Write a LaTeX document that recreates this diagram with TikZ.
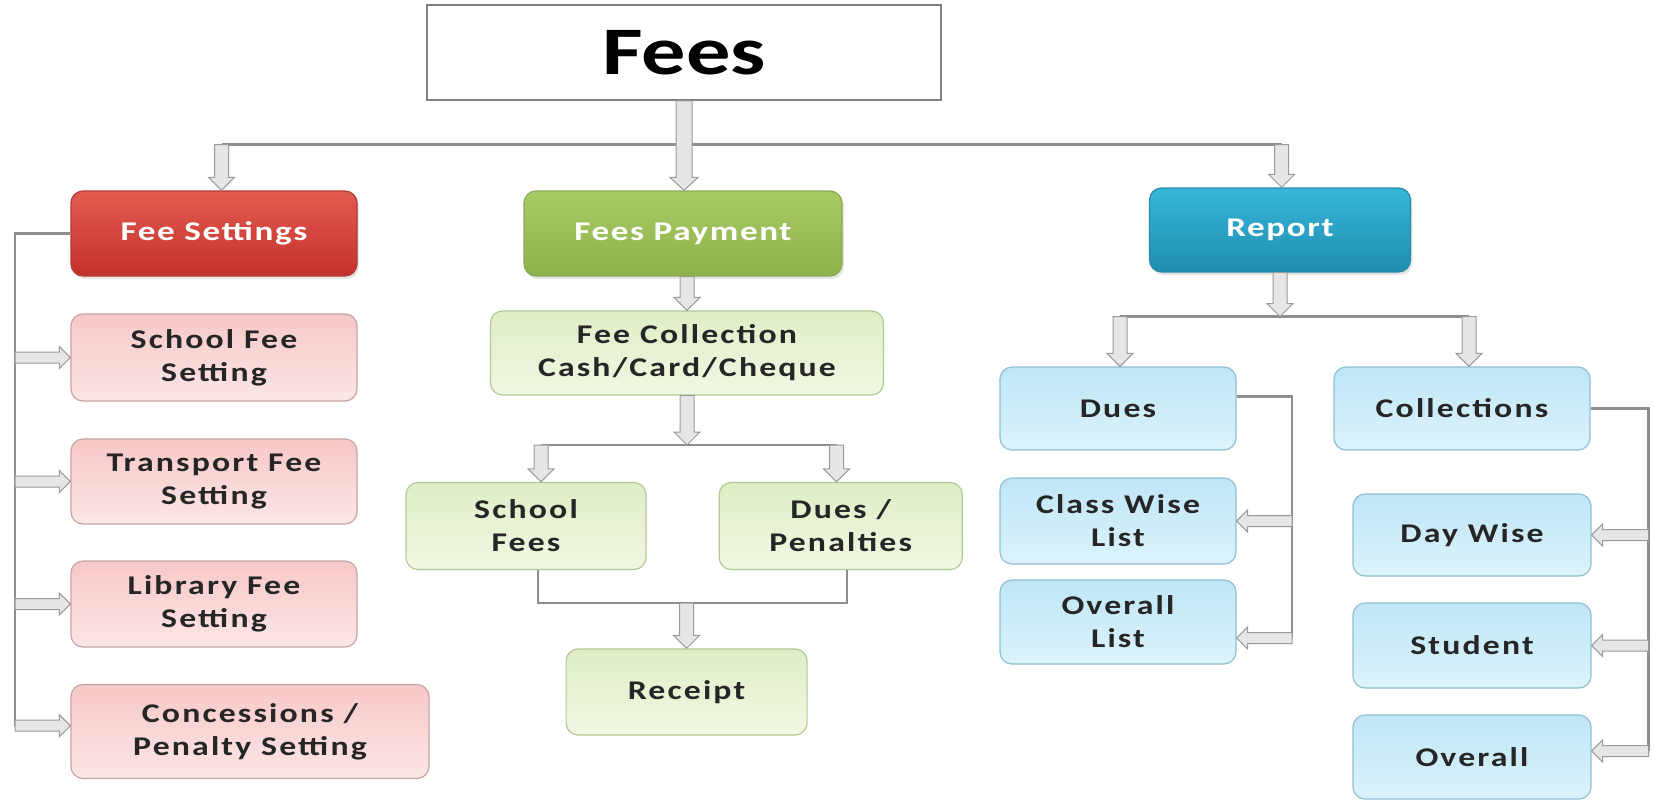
\documentclass[tikz,border=0pt]{standalone}
\usepackage{fontspec}
\setmainfont{Carlito}
\newfontfamily\boxf[FakeStretch=1.25,LetterSpace=8]{Carlito}
\newfontfamily\hdrf[FakeStretch=1.3,LetterSpace=6]{Carlito}
\newfontfamily\titlef[FakeStretch=1.3]{Carlito}
\usetikzlibrary{calc,shadows}
\definecolor{lncol}{HTML}{8E8E8E}
\definecolor{blkfill}{HTML}{E6E6E6}
\definecolor{blkdraw}{HTML}{9A9A9A}
\definecolor{redT}{HTML}{E35B50}\definecolor{redB}{HTML}{C4312B}\definecolor{redD}{HTML}{B23A34}
\definecolor{grnT}{HTML}{A9CB66}\definecolor{grnB}{HTML}{8DB14C}\definecolor{grnD}{HTML}{8CAA55}
\definecolor{tealT}{HTML}{38B6D9}\definecolor{tealB}{HTML}{1F8DB0}\definecolor{tealD}{HTML}{2A8AA8}
\definecolor{pinkT}{HTML}{F7C8C8}\definecolor{pinkB}{HTML}{FCE6E6}\definecolor{pinkD}{HTML}{C9A3A3}
\definecolor{lgT}{HTML}{DFEEC6}\definecolor{lgB}{HTML}{F0F8E3}\definecolor{lgD}{HTML}{B3C893}
\definecolor{lbT}{HTML}{BFE6F6}\definecolor{lbB}{HTML}{DCF3FC}\definecolor{lbD}{HTML}{8EBFD3}
\definecolor{txt}{HTML}{262626}
% vertical block arrow (downwards): [shaft half width]{from}{to}
\newcommand{\vblk}[3][7]{\path[blk] let \p1=(#2), \p2=(#3) in
  (\x1-#1pt,\y1) -- (\x1+#1pt,\y1) -- (\x1+#1pt,\y2+13pt) -- (\x1+#1pt+6pt,\y2+13pt)
  -- (\x1,\y2) -- (\x1-#1pt-6pt,\y2+13pt) -- (\x1-#1pt,\y2+13pt) -- cycle;}
% horizontal block arrow pointing right
\newcommand{\hblkR}[2]{\path[blk] let \p1=(#1), \p2=(#2) in
  (\x1,\y1+5.5pt) -- (\x2-11pt,\y1+5.5pt) -- (\x2-11pt,\y1+11pt) -- (\x2,\y1)
  -- (\x2-11pt,\y1-11pt) -- (\x2-11pt,\y1-5.5pt) -- (\x1,\y1-5.5pt) -- cycle;}
% horizontal block arrow pointing left
\newcommand{\hblkL}[2]{\path[blk] let \p1=(#1), \p2=(#2) in
  (\x1,\y1+5.5pt) -- (\x2+11pt,\y1+5.5pt) -- (\x2+11pt,\y1+11pt) -- (\x2,\y1)
  -- (\x2+11pt,\y1-11pt) -- (\x2+11pt,\y1-5.5pt) -- (\x1,\y1-5.5pt) -- cycle;}
\begin{document}
\begin{tikzpicture}[x=1pt,y=-1pt,
  ln/.style={draw=lncol,line width=2.4pt},
  blk/.style={fill=blkfill,draw=blkdraw,line width=1pt,line join=miter},
  basebox/.style={rectangle,rounded corners=12pt,align=center,inner sep=0pt,
    line width=1.2pt,font=\boxf\bfseries\fontsize{27}{33}\selectfont},
  hdr/.style={basebox,text=white,font=\hdrf\bfseries\fontsize{27}{33}\selectfont,
    drop shadow={opacity=0.2,shadow xshift=2pt,shadow yshift=-3pt}},
  redbox/.style={hdr,top color=redT,bottom color=redB,draw=redD},
  grnbox/.style={hdr,top color=grnT,bottom color=grnB,draw=grnD},
  tealbox/.style={hdr,top color=tealT,bottom color=tealB,draw=tealD},
  pinkbox/.style={basebox,text=txt,top color=pinkT,bottom color=pinkB,draw=pinkD},
  lgbox/.style={basebox,text=txt,top color=lgT,bottom color=lgB,draw=lgD},
  lbbox/.style={basebox,text=txt,top color=lbT,bottom color=lbB,draw=lbD},
  sz/.style 2 args={minimum width=#1pt,minimum height=#2pt}
]
\useasboundingbox (0,0) rectangle (1654,801);

% ---- nodes ----
\node[rectangle,draw=black!50,line width=1.6pt,fill=white,sz={514}{95},
      font=\titlef\bfseries\fontsize{68}{80}\selectfont,text=black] (fees) at (684,52.5) {Fees};

\node[redbox,sz={286}{85}] (fs) at (214,233.5) {Fee Settings};
\node[grnbox,sz={318}{85}] (fp) at (683,233.5) {Fees Payment};
\node[tealbox,sz={261}{84}] (rep) at (1280,230) {Report};

\node[pinkbox,sz={286}{87}] (sfs) at (214,357.5) {School Fee\\Setting};
\node[pinkbox,sz={286}{85}] (tfs) at (214,481.5) {Transport Fee\\Setting};
\node[pinkbox,sz={286}{86}] (lfs) at (214,604) {Library Fee\\Setting};
\node[pinkbox,sz={358}{94}] (cps) at (250,731.5) {Concessions /\\Penalty Setting};

\node[lgbox,sz={393}{84}] (fc) at (687,353) {Fee Collection\\Cash/Card/Cheque};
\node[lgbox,sz={240}{87}] (sf) at (526,526) {School\\Fees};
\node[lgbox,sz={243}{87}] (dp) at (840.7,526) {Dues /\\Penalties};
\node[lgbox,sz={241}{86}] (rc) at (686.6,692) {Receipt};

\node[lbbox,sz={236}{83}] (du) at (1118,408.5) {Dues};
\node[lbbox,sz={256}{83}] (co) at (1462,408.5) {Collections};
\node[lbbox,sz={236}{86}] (cw) at (1118,521) {Class Wise\\List};
\node[lbbox,sz={236}{84}] (ol) at (1118,622) {Overall\\List};
\node[lbbox,sz={238}{82}] (dw) at (1472,535) {Day Wise};
\node[lbbox,sz={238}{85}] (st) at (1472,645.5) {Student};
\node[lbbox,sz={238}{84}] (ov) at (1472,757) {Overall};

% ---- junction coordinates ----
\coordinate (tL) at (221.5,144.5);
\coordinate (tR) at (1281.6,144.5);
\coordinate (lv) at (15,725.7);
\coordinate (mj) at (687,445);
\coordinate (mL) at (541,445);
\coordinate (mR) at (836.5,445);
\coordinate (bL) at (538,603);
\coordinate (bR) at (847,603);
\coordinate (rj) at (1280,316.5);
\coordinate (rL) at (1120,316.5);
\coordinate (rR) at (1469,316.5);
\coordinate (dv) at (1292,638);
\coordinate (cv) at (1648.5,751);

% ---- lines ----
\draw[ln] (tL) -- (tR);
\draw[ln] (fs.west) -| (lv);
\draw[ln] (mL) -- (mR);
\draw[ln] (bL |- sf.south) -- (bL) -- (bR) -- (bR |- dp.south);
\draw[ln] (rL) -- (rR);
\draw[ln] ([yshift=12pt]du.east) -| (dv);
\draw[ln] (co.east) -| (cv);

% ---- block arrows ----
\vblk[8]{fees.south}{fees.south |- fp.north}
\vblk{tL}{tL |- fs.north}
\vblk{tR}{tR |- rep.north}

\hblkR{lv |- sfs.west}{sfs.west}
\hblkR{lv |- tfs.west}{tfs.west}
\hblkR{lv |- lfs.west}{lfs.west}
\hblkR{lv}{lv -| cps.west}

\vblk{fp.south -| fc.north}{fc.north}
\vblk{fc.south}{mj}
\vblk{mL}{mL |- sf.north}
\vblk{mR}{mR |- dp.north}
\vblk{rc.north |- bL}{rc.north}

\vblk{rep.south}{rj}
\vblk{rL}{rL |- du.north}
\vblk{rR}{rR |- co.north}

\hblkL{dv |- cw.east}{cw.east}
\hblkL{dv}{dv -| ol.east}
\hblkL{cv |- dw.east}{dw.east}
\hblkL{cv |- st.east}{st.east}
\hblkL{cv}{cv -| ov.east}
\end{tikzpicture}
\end{document}
